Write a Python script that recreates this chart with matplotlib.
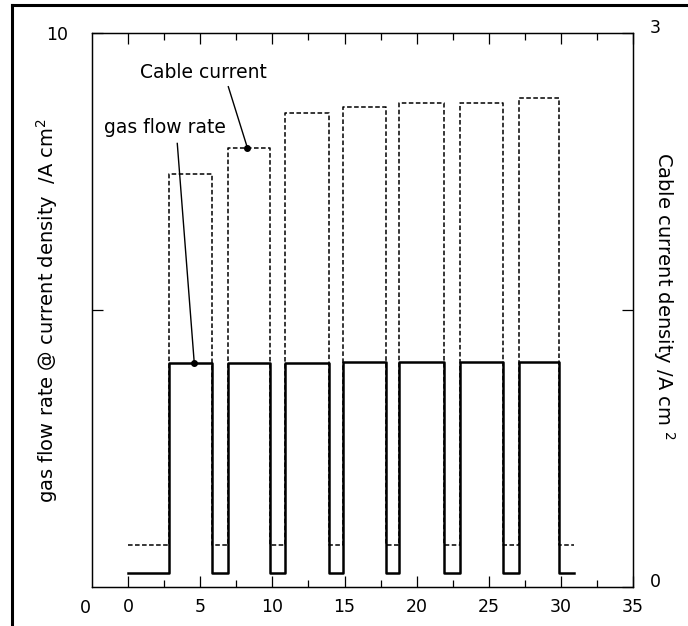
import matplotlib
matplotlib.use('Agg')
import matplotlib.pyplot as plt
from matplotlib.lines import Line2D
import numpy as np

# pulse switching times (same for both traces)
t_start = 0.0
t_on = [2.85, 6.94, 10.9, 14.9, 18.8, 23.0, 27.1]
t_off = [5.83, 9.86, 13.9, 17.9, 21.9, 26.0, 29.9]
t_end = 30.9

# gas flow rate, left axis
gas_low = 0.25
gas_high = [4.04, 4.05, 4.05, 4.06, 4.07, 4.07, 4.07]

# cable current density, right axis  /A cm^2
cable_low = 0.23
cable_high = [2.24, 2.38, 2.57, 2.60, 2.62, 2.62, 2.65]

x_ticks = [0, 5, 10, 15, 20, 25, 30, 35]
x_minor = [2.5, 7.5, 12.5, 17.5, 22.5, 27.5, 32.5]


def pulse_train( on, off, low, high ):
  X = [ t_start ]
  Y = [ low ]
  for a, b, h in zip( on, off, high ):
    X += [ a, b ]
    Y += [ h, low ]
  X.append( t_end )
  Y.append( low )
  return X, Y


plt.rcParams['font.family'] = ['DejaVu Sans']

fig = plt.figure( figsize=(6.88, 6.26), dpi=100 )
ax = fig.add_axes( [ 0.134, 0.062, 0.786, 0.885 ] )
ax2 = ax.twinx()

# outer frame of the page
fig.add_artist( Line2D( [ 0.018, 0.018 ], [ 0.0, 0.992 ], color='black', lw=2.2, transform=fig.transFigure ) )
fig.add_artist( Line2D( [ 0.018, 1.0 ], [ 0.992, 0.992 ], color='black', lw=2.2, transform=fig.transFigure ) )

Xc, Yc = pulse_train( t_on, t_off, cable_low, cable_high )
ax2.plot( Xc, Yc, color='black', lw=1.1, ls=(0, (3, 1.6)), drawstyle='steps-post', zorder=2 )

Xg, Yg = pulse_train( t_on, t_off, gas_low, gas_high )
ax.plot( Xg, Yg, color='black', lw=1.8, drawstyle='steps-post', zorder=3 )
ax.set_zorder( ax2.get_zorder() + 1 )
ax.patch.set_visible( False )

ax.set_xlim( -2.5, 35 )
ax.set_ylim( 0, 10 )
ax2.set_ylim( 0, 3 )

ax.set_xticks( x_ticks )
ax.set_xticks( x_minor, minor=True )
ax.tick_params( axis='x', which='both', direction='in', top=True, labelsize=12.5, pad=8, width=0.9 )
ax.tick_params( axis='x', which='major', length=8 )
ax.tick_params( axis='x', which='minor', length=5 )
ax.set_yticks( [ 5, 10 ] )
ax.set_yticklabels( [ '', '10' ] )
ax.tick_params( axis='y', direction='in', length=8, width=0.9, labelsize=12.5, pad=17 )
ax.text( -3.0, -0.021, '0', fontsize=12.5, ha='center', va='top', transform=ax.get_xaxis_transform() )

ax2.set_yticks( [ 0, 1.5, 3 ] )
ax2.set_yticklabels( [ '0', '', '3' ] )
ax2.tick_params( axis='y', direction='in', length=8, width=0.9, labelsize=12.5, pad=12 )
for lbl in ax2.get_yticklabels():
  lbl.set_verticalalignment( 'baseline' )

for a in ( ax, ax2 ):
  for s in a.spines.values():
    s.set_linewidth( 0.9 )

ax.set_ylabel( 'gas flow rate @ current density  /A cm$^{2}$', fontsize=14 )
ax.yaxis.set_label_coords( -0.059, 0.5 )
ax2.set_ylabel( 'Cable current density /A cm $^{2}$', fontsize=14, rotation=-90, va='center' )
ax2.yaxis.set_label_coords( 1.057, 0.525 )

# labels pointing at the two traces
ax2.text( 5.24, 2.785, 'Cable current', fontsize=13.5, ha='center', va='center' )
ax2.plot( [ 6.94, 8.26 ], [ 2.71, cable_high[1] ], color='black', lw=1 )
ax2.plot( 8.26, cable_high[1], 'ko', ms=4 )

ax.text( 2.57, 8.29, 'gas flow rate', fontsize=13.5, ha='center', va='center' )
ax.plot( [ 3.40, 4.58 ], [ 8.01, gas_high[0] ], color='black', lw=1 )
ax.plot( 4.58, gas_high[0], 'ko', ms=4 )

fig.savefig( 'out.png', dpi=100 )
